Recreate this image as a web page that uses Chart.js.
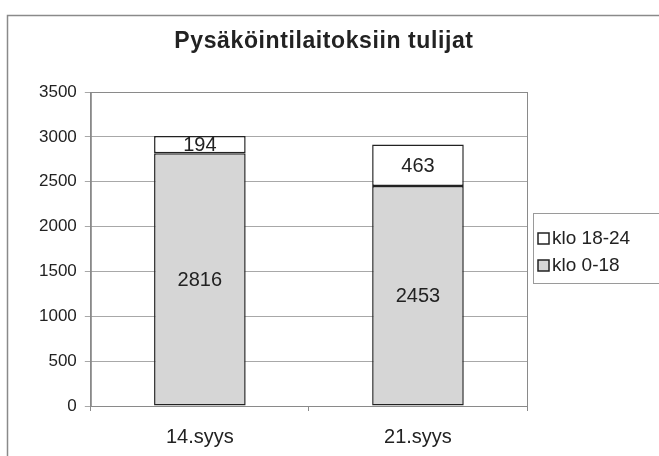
<!DOCTYPE html>
<html>
<head>
<meta charset="utf-8">
<script src="https://cdn.jsdelivr.net/npm/chart.js@4/dist/chart.umd.min.js"></script>
<style>
  html, body { margin: 0; padding: 0; background: #fff; }
  #wrap { width: 659px; height: 456px; position: relative; }
</style>
</head>
<body>
<div id="wrap"><canvas id="grafico"></canvas></div>
<script>
// Datos
const paivat = ["14.syys", "21.syys"];
const klo0_18 = [2816, 2453];
const klo18_24 = [194, 463];
const sarjat = ["klo 0-18", "klo 18-24"];
const otsikko = "Pysäköintilaitoksiin tulijat";

const fontti = "'Liberation Sans', Arial, sans-serif";

// Kehys, otsikko, plotin reunat ja selite
const kehysPlugin = {
  id: "kehys",
  beforeDraw(chart) {
    const ctx = chart.ctx;
    ctx.save();
    ctx.fillStyle = "#fff";
    ctx.fillRect(0, 0, chart.width, chart.height);
    ctx.strokeStyle = "#8a8a8a";
    ctx.lineWidth = 1.5;
    ctx.strokeRect(7.5, 15.5, chart.width + 20, chart.height + 20);

    ctx.fillStyle = "#222";
    ctx.font = "bold 23px " + fontti;
    ctx.letterSpacing = "0.6px";
    ctx.textAlign = "center";
    ctx.textBaseline = "middle";
    ctx.fillText(otsikko, 324, 42);
    ctx.restore();
  },
  afterDraw(chart) {
    const ctx = chart.ctx;
    const a = chart.chartArea;
    ctx.save();
    ctx.strokeStyle = "#8a8a8a";
    ctx.lineWidth = 1;
    ctx.strokeRect(a.left + 0.5, a.top + 0.5, a.right - a.left, a.bottom - a.top);

    // selite
    const lx = 533, ly = 213;
    ctx.strokeStyle = "#9a9a9a";
    ctx.strokeRect(lx + 0.5, ly + 0.5, 140, 70);
    const rivit = [
      { teksti: sarjat[1], vari: "#ffffff", y: ly + 25 },
      { teksti: sarjat[0], vari: "#d6d6d6", y: ly + 52 },
    ];
    ctx.font = "19px " + fontti;
    ctx.textBaseline = "middle";
    ctx.textAlign = "left";
    rivit.forEach((r) => {
      ctx.fillStyle = r.vari;
      ctx.fillRect(lx + 5, r.y - 5, 11, 11);
      ctx.strokeStyle = "#222";
      ctx.lineWidth = 1.5;
      ctx.strokeRect(lx + 5, r.y - 5, 11, 11);
      ctx.fillStyle = "#222";
      ctx.fillText(r.teksti, lx + 19, r.y + 1);
    });

    // arvot pylväisiin
    ctx.font = "20px " + fontti;
    ctx.textAlign = "center";
    chart.data.datasets.forEach((ds, i) => {
      const meta = chart.getDatasetMeta(i);
      meta.data.forEach((bar, j) => {
        const keski = (bar.y + bar.base) / 2;
        ctx.fillStyle = "#222";
        ctx.fillText(ds.data[j], bar.x, keski + 1);
      });
    });
    ctx.restore();
  },
};

new Chart(document.getElementById("grafico"), {
  type: "bar",
  data: {
    labels: paivat,
    datasets: [
      {
        label: sarjat[0],
        data: klo0_18,
        backgroundColor: "#d6d6d6",
        borderColor: "#222",
        borderWidth: 1.5,
        borderSkipped: false,
        categoryPercentage: 1,
        barPercentage: 0.42,
      },
      {
        label: sarjat[1],
        data: klo18_24,
        backgroundColor: "#ffffff",
        borderColor: "#222",
        borderWidth: 1.5,
        borderSkipped: false,
        categoryPercentage: 1,
        barPercentage: 0.42,
      },
    ],
  },
  options: {
    responsive: true,
    maintainAspectRatio: false,
    animation: false,
    layout: { padding: { left: 31, right: 132, top: 92, bottom: -7 } },
    plugins: {
      legend: { display: false },
      tooltip: { enabled: false },
      title: { display: false },
    },
    scales: {
      x: {
        stacked: true,
        grid: { offset: true, drawOnChartArea: false, color: "#8a8a8a", tickLength: 5 },
        border: { color: "#555" },
        ticks: { color: "#222", font: { family: fontti, size: 20 }, padding: 14 },
      },
      y: {
        stacked: true,
        min: 0,
        max: 3500,
        ticks: {
          stepSize: 500,
          color: "#222",
          font: { family: fontti, size: 17 },
          padding: 8,
          callback: (v) => String(v),
        },
        grid: { color: "#a8a8a8", tickLength: 6 },
        border: { color: "#8a8a8a" },
      },
    },
  },
  plugins: [kehysPlugin],
});
</script>
</body>
</html>
